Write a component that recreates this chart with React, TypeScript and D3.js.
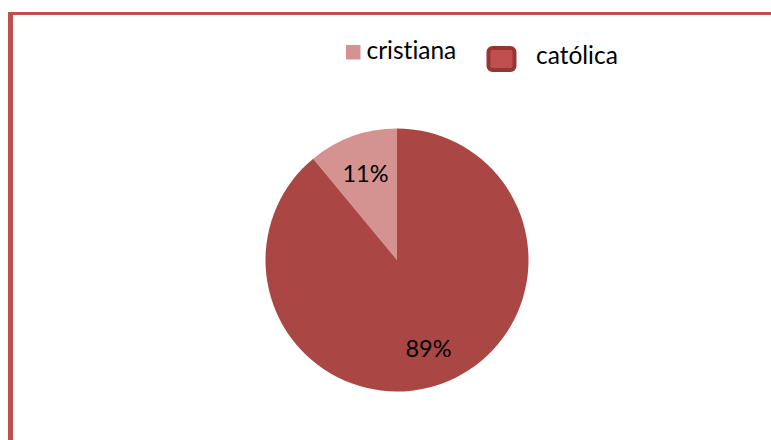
import React from "react";
import * as d3 from "d3";

const categories = ["cristiana", "católica"];
const values = [11, 89];
const labels = ["11%", "89%"];
const colors = ["#d49391", "#aa4744"];

const W = 771;
const H = 440;
const cx = 397;
const cy = 260;
const R = 131.5;

export default function App() {
  const total = d3.sum(values);
  const startA = -2 * Math.PI * (values[0] / total);
  const pie = d3
    .pie<number>()
    .sort(null)
    .value((d) => d)
    .startAngle(startA)
    .endAngle(startA + 2 * Math.PI);
  const arcs = pie(values);
  const arc = d3.arc<d3.PieArcDatum<number>>().innerRadius(0).outerRadius(R);
  const labelArc = d3
    .arc<d3.PieArcDatum<number>>()
    .innerRadius(186)
    .outerRadius(0);
  const font = "Lato, 'Liberation Sans', sans-serif";
  const txtStyle = { fontVariantLigatures: "none" as const };

  return (
    <svg
      width={W}
      height={H}
      style={{ position: "absolute", left: 0, top: 0, background: "#fff" }}
    >
      <line x1={10.5} y1={12} x2={10.5} y2={H} stroke="#c0504d" strokeWidth={5} />
      <line x1={8} y1={13.5} x2={W} y2={13.5} stroke="#c0504d" strokeWidth={3} />
      <g transform={`translate(${cx},${cy})`}>
        {arcs.map((a, i) => (
          <path key={categories[i]} d={arc(a) || ""} fill={colors[i]} />
        ))}
        {arcs.map((a, i) => {
          const [x, y] = labelArc.centroid(a);
          return (
            <text
              key={"l" + i}
              x={x}
              y={y}
              textAnchor="middle"
              dominantBaseline="central"
              fontFamily={font}
              fontSize={23.5}
              fill="#000"
              style={txtStyle}
            >
              {labels[i]}
            </text>
          );
        })}
      </g>
      <g>
        <rect x={346} y={45} width={14.5} height={14.5} fill={colors[0]} />
        <text x={366.5} y={59.3} fontFamily={font} fontSize={24.5} fill="#000" style={txtStyle}>
          {categories[0]}
        </text>
        <rect
          x={488.5}
          y={48}
          width={26}
          height={22}
          rx={4}
          fill="#c0504d"
          stroke="#963634"
          strokeWidth={4}
        />
        <text x={536} y={64.3} fontFamily={font} fontSize={24.5} fill="#000" style={txtStyle}>
          {categories[1]}
        </text>
      </g>
    </svg>
  );
}
